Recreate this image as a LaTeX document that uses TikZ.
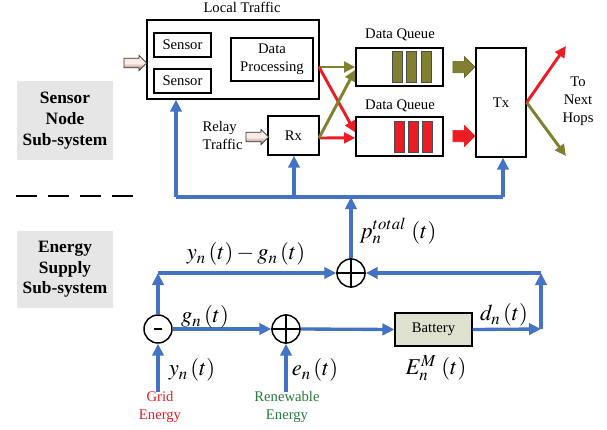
\documentclass[tikz,border=0pt]{standalone}
\usepackage{mathptmx}
\usepackage{fontspec}
\setmainfont{Liberation Serif}
\usetikzlibrary{arrows.meta,shapes.arrows,fit}

\definecolor{flowblue}{RGB}{68,114,196}
\definecolor{queueolive}{RGB}{128,128,48}
\definecolor{queuered}{RGB}{237,28,36}
\definecolor{batteryfill}{RGB}{221,225,205}
\definecolor{panelgray}{RGB}{230,230,231}
\definecolor{renewgreen}{RGB}{38,122,62}
\definecolor{pinklight}{RGB}{250,228,222}
\definecolor{pinkdark}{RGB}{150,100,90}

\tikzset{every picture/.style={line width=0.75pt}}
\tikzset{
	blockbox/.style={draw=black, line width=1pt, inner sep=0pt},
	flowline/.style={draw=flowblue, line width=2.5pt, -{Triangle[length=9pt,width=8.5pt]}},
	hopline/.style={line width=2.2pt, -{Triangle[length=8.5pt,width=8pt]}},
	sumnode/.style={circle, draw, line width=1.1pt, minimum size=21pt, inner sep=0pt, fill=white},
	fatarrow/.style={single arrow, inner xsep=0pt, line width=0.5pt},
	trafficarrow/.style={fatarrow, draw=black!80, top color=pinklight, bottom color=pinkdark, middle color=pinklight!60!white, minimum height=17pt, inner ysep=3.3pt, minimum width=11pt, single arrow head extend=2.2pt},
	queuearrow/.style={fatarrow, minimum height=16.5pt, inner ysep=4pt, minimum width=15pt, single arrow head extend=3.5pt},
	bar/.style={draw=black!70, line width=0.6pt},
	panel/.style={fill=panelgray, inner sep=0pt},
	paneltext/.style={font=\fontsize{13}{15.5}\selectfont\bfseries, align=center, inner sep=0pt},
	lbl/.style={font=\fontsize{11}{13.5}\selectfont, inner sep=0.75pt, align=center},
	sym/.style={font=\fontsize{17}{19}\selectfont, inner sep=0.75pt},
}

\begin{document}
\begin{tikzpicture}[x=0.75pt,y=0.75pt,yscale=-1,xscale=1]
	\path[use as bounding box] (0,0) rectangle (607,429);
	
	% Side panels
	\node[panel, fit={(17,81) (113,160)}] (sensorpanel) {};
	\node[paneltext] (sensorpaneltext) at (sensorpanel.center) {Sensor\\Node\\Sub-system};
	\node[panel, fit={(17,231) (113,308)}] (energypanel) {};
	\node[paneltext] (energypaneltext) at (energypanel.center) {Energy\\Supply\\Sub-system};
	%Straight Lines (separator)
	\draw [line width=2.2pt, dash pattern={on 15.75pt off 8.25pt}] (16,196) -- (134,196);
	
	% Local traffic block
	\node[blockbox, fit={(147,20) (319,99)}] (local) {};
	\node[blockbox, fit={(154,33) (211,57)}] (sensorA) {};
	\node[blockbox, fit={(154,69) (211,93)}] (sensorB) {};
	\node[blockbox, fit={(231,38) (313,81)}] (dataproc) {};
	% Text Node
	\node[lbl] (sensorAtext) at (sensorA.center) {Sensor};
	\node[lbl] (sensorBtext) at (sensorB.center) {Sensor};
	\node[lbl] (dataproctext) at (dataproc.center) {Data\\Processing};
	\node[lbl] (localtitle) at (242,7) {Local Traffic};
	\node[trafficarrow] (localin) at (133,63) {};
	
	% Relay traffic
	\node[blockbox, fit={(268,116) (319,155)}] (rx) {};
	\node[lbl] (rxtext) at (rx.center) {Rx};
	% Text Node
	\node[lbl, align=left, anchor=east] (relaytext) at (244,135) {Relay\\Traffic};
	\node[trafficarrow] (relayin) at (255,137) {};
	
	% Queues
	\node[blockbox, fit={(356,48) (443,86)}] (queue1) {};
	\node[blockbox, fit={(356,117) (443,156)}] (queue2) {};
	\node[lbl] (q1title) at (400,35) {Data Queue};
	\node[lbl] (q2title) at (400,106) {Data Queue};
	\foreach \bx in {392,406,421} {
		\draw [bar, fill=queueolive] (\bx,51) rectangle (\bx+10,82);
	}
	\foreach \bx in {394,408,422} {
		\draw [bar, fill=queuered] (\bx,121) rectangle (\bx+10,152);
	}
	\node[queuearrow, fill=queueolive, draw=queueolive!80!black] (q1out) at (461,67) {};
	\node[queuearrow, fill=queuered, draw=queuered] (q2out) at (461,136) {};
	
	% Transmitter
	\node[blockbox, fit={(476,48) (526,157)}] (tx) {};
	\node[lbl] (txtext) at (tx.center) {Tx};
	\node[lbl] (nexthops) at (578,101) {To\\Next\\Hops};
	\coordinate (hopup) at (566,46);
	\coordinate (hopdown) at (566,156);
	\draw [hopline, queuered] (tx.east) -- (hopup);
	\draw [hopline, queueolive] (tx.east) -- (hopdown);
	
	% Routing into queues
	\coordinate (localout) at (319,67);
	\coordinate (rxout) at (319,138);
	\draw [hopline, queueolive] (localout) -- (queue1.west);
	\draw [hopline, queuered] (localout) -- ([yshift=-3pt]queue2.west);
	\draw [hopline, queuered] (rxout) -- ([yshift=1pt]queue2.west);
	\draw [hopline, queueolive] (rxout) -- ([yshift=2pt]queue1.west);
	
	% Power bus
	\coordinate (busleft) at (176,197);
	\coordinate (busmid) at (294,197);
	\coordinate (busright) at (503,197);
	\coordinate (bustap) at (351,197);
	\draw [draw=flowblue, line width=2.5pt] (busleft) -- (busright);
	\draw [flowline] (busleft) -- (busleft |- local.south);
	\draw [flowline] (busmid) -- (busmid |- rx.south);
	\draw [flowline] (busright) -- (busright |- tx.south);
	
	% Energy supply
	\node[sumnode] (sumtotal) at (351,273) {};
	\node[sumnode] (diff) at (158,329) {};
	\node[sumnode] (sumgen) at (286,329) {};
	\draw [line width=1.1pt] (sumtotal.north) -- (sumtotal.south);
	\draw [line width=1.1pt] (sumtotal.west) -- (sumtotal.east);
	\draw [line width=1.1pt] (sumgen.north) -- (sumgen.south);
	\draw [line width=1.1pt] (sumgen.west) -- (sumgen.east);
	\draw [line width=1.4pt] ([xshift=-3pt]diff.center) -- ([xshift=3pt]diff.center);
	\node[blockbox, fill=batteryfill, fit={(395,313) (472,346)}, line width=0.8pt] (battery) {};
	\node[lbl] (batterytext) at (battery.center) {Battery};
	
	\coordinate (cornerleft) at (158,273);
	\coordinate (cornerright) at (541,273);
	\coordinate (batterydrain) at (541,329);
	\coordinate (gridin) at (158,392);
	\coordinate (renewin) at (286,392);
	
	\draw [flowline] (sumtotal.north) -- (bustap);
	\draw [flowline] (diff.north) -- (cornerleft);
	\draw [flowline] (cornerleft) -- (sumtotal.west);
	\draw [flowline] (diff.east) -- (sumgen.west);
	\draw [flowline] (sumgen.east) -- (battery.west);
	\draw [flowline] (battery.east) -- (batterydrain);
	\draw [flowline] (batterydrain) -- (cornerright);
	\draw [flowline] (cornerright) -- (sumtotal.east);
	\draw [flowline] (gridin) -- (diff.south);
	\draw [flowline] (renewin) -- (sumgen.south);
	
	% Text Node
	\node[sym] (ydiff) at (246,254) {$y_n\left(t\right)-g_n\left(t\right)$};
	\node[sym] (ptotal) at (398,231) {$p_n^{total}\,\left(t\right)$};
	\node[sym] (gout) at (205,317) {$g_n\left(t\right)$};
	\node[sym] (yin) at (192,370) {$y_n\left(t\right)$};
	\node[sym] (ein) at (315,370) {$e_n\left(t\right)$};
	\node[sym] (dout) at (504,315) {$d_n\left(t\right)$};
	\node[sym] (emax) at (436,368) {$E_n^M\,\left(t\right)$};
	\node[lbl, text=queuered] (gridtext) at (160,407) {Grid\\Energy};
	\node[lbl, text=renewgreen] (renewtext) at (287,407) {Renewable\\Energy};
	
\end{tikzpicture}
\end{document}
